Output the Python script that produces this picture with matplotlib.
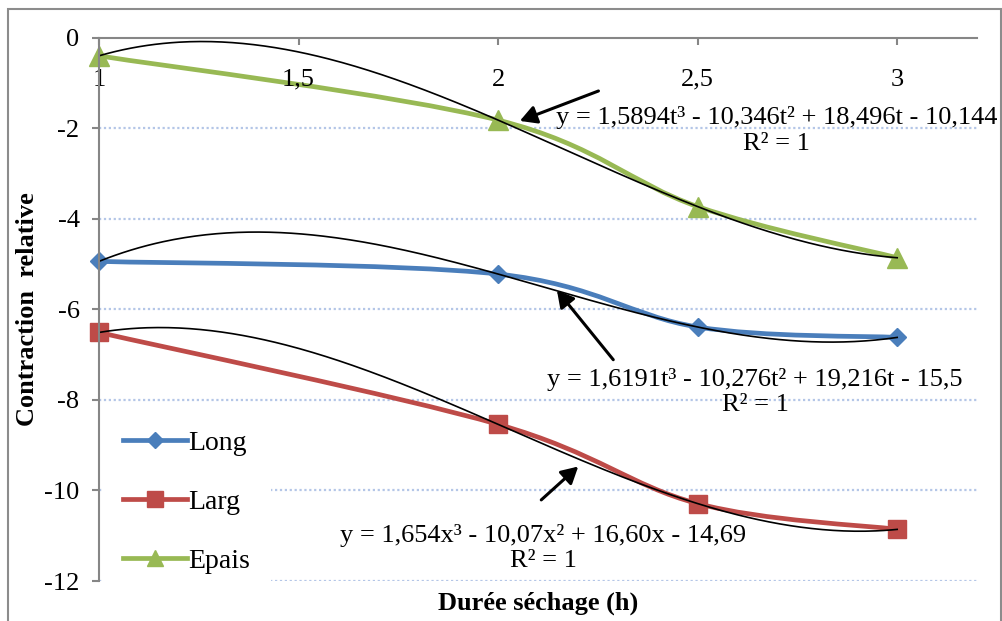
import matplotlib
matplotlib.use("Agg")
import matplotlib.pyplot as plt
import numpy as np
from matplotlib.path import Path
from matplotlib.patches import PathPatch, Rectangle
from matplotlib.lines import Line2D

plt.rcParams['font.family'] = ['Liberation Serif', 'DejaVu Serif']

# Données : contraction relative en fonction de la durée de séchage
duree = [1, 2, 2.5, 3]
long_ = [-4.94, -5.22, -6.39, -6.62]
larg = [-6.51, -8.54, -10.29, -10.86]
epais = [-0.40, -1.82, -3.73, -4.86]

noms = ['Long', 'Larg', 'Epais']
couleurs = ['#4a7ebb', '#be4b48', '#98b954']
marqueurs = ['D', 's', '^']
tailles = [9, 13, 14]

equations = [
    'y = 1,6191t³ - 10,276t² + 19,216t - 15,5\nR² = 1',
    'y = 1,654x³ - 10,07x² + 16,60x - 14,69\nR² = 1',
    'y = 1,5894t³ - 10,346t² + 18,496t - 10,144\nR² = 1',
]
# position du texte, départ et pointe de la flèche
pos_texte = [(2.644, -7.82), (2.113, -11.28), (2.697, -2.05)]
fleche_de = [(2.293, -7.16), (2.103, -10.25), (2.258, -1.155)]
fleche_a = [(2.143, -5.53), (2.206, -9.43), (2.048, -1.86)]

xticks = [1, 1.5, 2, 2.5, 3]
xtick_labels = ['1', '1,5', '2', '2,5', '3']
yticks = [0, -2, -4, -6, -8, -10, -12]


def courbe_lissee(xs, ys):
    # ligne lissée façon tableur (Bézier type Catmull-Rom)
    pts = np.column_stack([xs, ys]).astype(float)
    verts = [pts[0]]
    codes = [Path.MOVETO]
    n = len(pts)
    for i in range(n - 1):
        p0 = pts[i - 1] if i > 0 else pts[i]
        p1 = pts[i]
        p2 = pts[i + 1]
        p3 = pts[i + 2] if i + 2 < n else p2
        verts += [p1 + (p2 - p0) / 6, p2 - (p3 - p1) / 6, p2]
        codes += [Path.CURVE4] * 3
    return Path(verts, codes)


fig = plt.figure(figsize=(10.03, 6.21), dpi=100)
W, H = 1003, 621
ax = fig.add_axes([99 / W, 1 - 581 / H, 878 / W, 543.3 / H])

ax.set_xlim(1, 3.2)
ax.set_ylim(-12, 0)

# quadrillage pointillé
for yv in yticks[1:]:
    ax.axhline(yv, color='#b4c6e7', lw=1.6, ls=(0, (1, 1.2)), zorder=0)

series = [long_, larg, epais]
for ys, c, m, s in zip(series, couleurs, marqueurs, tailles):
    ax.add_patch(PathPatch(courbe_lissee(duree, ys), fc='none', ec=c, lw=3.4,
                           capstyle='round', joinstyle='round', zorder=2))
    ax.plot(duree, ys, ls='none', marker=m, ms=s, color=c, mec=c, zorder=3,
            clip_on=False)

# courbes de tendance polynomiales d'ordre 3
t = np.linspace(1, 3, 300)
for ys in series:
    coef = np.polyfit(duree, ys, 3)
    ax.plot(t, np.polyval(coef, t), color='black', lw=1.2, zorder=4)

for txt, p, a, b in zip(equations, pos_texte, fleche_de, fleche_a):
    ax.text(p[0], p[1], txt, ha='center', va='center', fontsize=19,
            linespacing=1.18, zorder=5)
    ax.annotate('', xy=b, xytext=a,
                arrowprops=dict(arrowstyle='-|>,head_length=1.0,head_width=0.55',
                                color='black', lw=2.2), zorder=6)

# axes
for sp in ['right', 'bottom']:
    ax.spines[sp].set_visible(False)
for sp in ['left', 'top']:
    ax.spines[sp].set_color('#868686')
    ax.spines[sp].set_linewidth(1.5)
    ax.spines[sp].set_zorder(8)

ax.xaxis.set_ticks_position('top')
ax.set_xticks(xticks)
ax.tick_params(axis='x', direction='in', length=5, width=1.5, color='#868686',
               labeltop=False, labelbottom=False)
for xv, lab in zip(xticks, xtick_labels):
    ax.text(xv, -0.93, lab, ha='center', va='center', fontsize=19)

ax.set_yticks(yticks)
ax.set_yticklabels([str(v) for v in yticks])
ax.tick_params(axis='y', direction='out', length=5, width=1.5, color='#868686',
               labelsize=19, pad=9)

fig.text(28 / W, 1 - 309 / H, 'Contraction  relative', rotation=90,
         ha='center', va='center', fontsize=19, fontweight='bold')
fig.text(538 / W, 1 - 603 / H, 'Durée séchage (h)', ha='center', va='center',
         fontsize=19, fontweight='bold')

handles = [Line2D([], [], color=c, lw=3.4, marker=m, ms=s * 0.85, mec=c)
           for c, m, s in zip(couleurs, marqueurs, tailles)]
leg = ax.legend(handles, noms, loc='upper left', bbox_to_anchor=(0.004, 0.315),
                borderaxespad=0, fontsize=20, handlelength=2.3, handletextpad=0.05,
                labelspacing=1.2, borderpad=0.75, frameon=True, fancybox=False,
                facecolor='white', edgecolor='none', framealpha=1)
leg.set_zorder(7)

# cadre extérieur
fig.patches.append(Rectangle((8 / W, -0.02), (1001 - 8) / W, 1 - 9 / H + 0.02,
                             transform=fig.transFigure, fill=False,
                             ec='#8c8c8c', lw=1.5))

fig.savefig('out.png', dpi=100)
